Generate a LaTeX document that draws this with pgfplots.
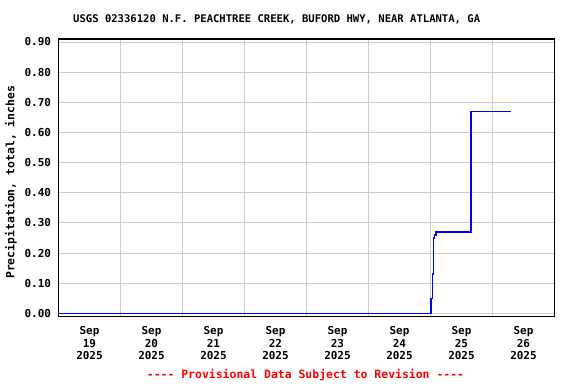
\documentclass[border=0pt]{standalone}
\usepackage{pgfplots}
\pgfplotsset{compat=1.18}
\usepackage{fontspec}
\setmainfont{DejaVu Sans Mono}
\definecolor{gridgray}{RGB}{204,204,204}
\definecolor{usgsblue}{RGB}{0,0,255}
\definecolor{usgsred}{RGB}{255,0,0}
\begin{document}
\begin{tikzpicture}[x=1bp,y=1bp]
\useasboundingbox (0bp,0bp) rectangle (576bp,384bp);
\begin{axis}[
  at={(58.5bp,67.5bp)}, anchor=south west, scale only axis,
  width=496bp, height=277.5bp,
  xmin=0, xmax=8, ymin=-0.0106, ymax=0.91,
  axis line style={black, line width=1.2bp},
  xtick={0.5,1.5,2.5,3.5,4.5,5.5,6.5,7.5},
  xticklabels={{Sep\\19\\2025},{Sep\\20\\2025},{Sep\\21\\2025},{Sep\\22\\2025},{Sep\\23\\2025},{Sep\\24\\2025},{Sep\\25\\2025},{Sep\\26\\2025}},
  minor xtick={1,2,3,4,5,6,7},
  xminorgrids, ymajorgrids, xmajorgrids=false,
  ytick={0,0.1,0.2,0.3,0.4,0.5,0.6,0.7,0.8,0.9},
  major tick length=0, minor tick length=0,
  grid style={gridgray, line width=0.8bp},
  minor grid style={gridgray, line width=0.8bp},
  /pgf/number format/fixed, /pgf/number format/fixed zerofill,
  /pgf/number format/precision=2, /pgf/number format/assume math mode=true,
  ticklabel style={font=\fontsize{11}{12.7}\selectfont\bfseries},
  xticklabel style={align=center, yshift=-6.5bp},
  yticklabel style={xshift=-4bp},
  ylabel={Precipitation, total, inches},
  every axis y label/.style={at={(axis description cs:0,0.5)}, rotate=90, anchor=center, yshift=47.5bp, xshift=-4.5bp, font=\fontsize{11.5}{12}\selectfont\bfseries},
]
\addplot[draw=usgsblue, line width=1.3bp, const plot, mark=none] coordinates {
(0,0) (6.0,0) (6.01,0.05) (6.035,0.13) (6.05,0.25) (6.07,0.26) (6.09,0.27) (6.65,0.27) (6.655,0.67) (7.3,0.67)};
\end{axis}
\node[font=\fontsize{10.6}{12}\selectfont\bfseries] at (276.7bp,365bp) {USGS 02336120 N.F. PEACHTREE CREEK, BUFORD HWY, NEAR ATLANTA, GA};
\node[font=\fontsize{11.5}{12}\selectfont\bfseries, text=usgsred] at (305.5bp,9bp) {{-}{-}{-}{-} Provisional Data Subject to Revision {-}{-}{-}{-}};
\end{tikzpicture}
\end{document}
